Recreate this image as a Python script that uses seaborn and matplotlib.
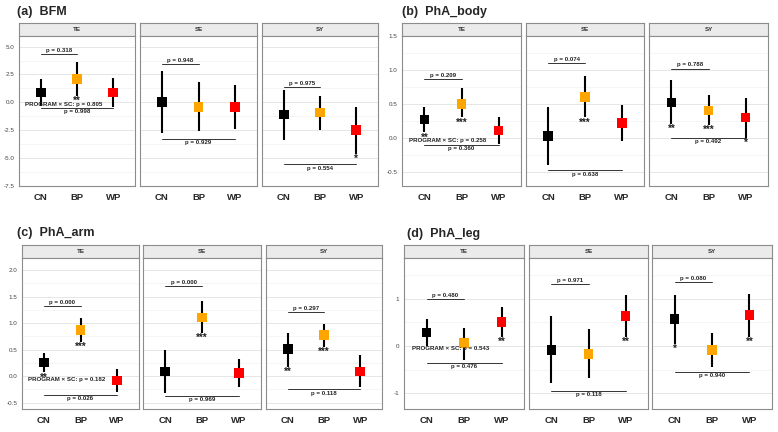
import matplotlib
matplotlib.use("Agg")
import matplotlib.pyplot as plt
import seaborn as sns
import pandas as pd
import numpy as np

# ---------------- data ----------------
groups = ["CN", "BP", "WP"]
facets = ["TE", "SE", "SY"]
panel_titles = ["(a)  BFM", "(b)  PhA_body", "(c)  PhA_arm", "(d)  PhA_leg"]
group_colors = ["#000000", "#FFA500", "#FF0000"]

# BFM
bfm_mean = [[0.90, 2.10, 0.90], [0.05, -0.40, -0.40], [-1.08, -0.90, -2.50]]
bfm_lo = [[-0.35, 0.60, -0.40], [-2.75, -2.55, -2.40], [-3.40, -2.45, -4.60]]
bfm_hi = [[2.10, 3.60, 2.20], [2.80, 1.80, 1.55], [1.10, 0.57, -0.40]]
bfm_stars = [["", "**", ""], ["", "", ""], ["", "", "*"]]
bfm_p_top = ["p = 0.318", "p = 0.948", "p = 0.975"]
bfm_p_top_y = [4.30, 3.40, 1.38]
bfm_p_bot = ["p = 0.998", "p = 0.929", "p = 0.554"]
bfm_p_bot_y = [-0.50, -3.30, -5.57]
bfm_inter = "PROGRAM × SC: p = 0.805"
bfm_inter_y = -0.20

# PhA_body
body_mean = [[0.27, 0.50, 0.11], [0.03, 0.60, 0.22], [0.52, 0.40, 0.30]]
body_lo = [[0.08, 0.30, -0.09], [-0.40, 0.30, -0.05], [0.21, 0.19, 0.00]]
body_hi = [[0.45, 0.73, 0.31], [0.46, 0.91, 0.49], [0.85, 0.63, 0.59]]
body_stars = [["**", "***", ""], ["", "***", ""], ["**", "***", "*"]]
body_p_top = ["p = 0.209", "p = 0.074", "p = 0.788"]
body_p_top_y = [0.87, 1.10, 1.02]
body_p_bot = ["p = 0.360", "p = 0.638", "p = 0.492"]
body_p_bot_y = [-0.11, -0.48, 0.00]
body_inter = "PROGRAM × SC: p = 0.258"
body_inter_y = -0.04

# PhA_arm
arm_mean = [[0.26, 0.87, -0.08], [0.09, 1.11, 0.06], [0.51, 0.78, 0.09]]
arm_lo = [[0.07, 0.65, -0.30], [-0.31, 0.81, -0.21], [0.18, 0.55, -0.21]]
arm_hi = [[0.43, 1.09, 0.14], [0.49, 1.41, 0.32], [0.81, 0.99, 0.39]]
arm_stars = [["**", "***", ""], ["", "***", ""], ["**", "***", ""]]
arm_p_top = ["p = 0.000", "p = 0.000", "p = 0.297"]
arm_p_top_y = [1.32, 1.70, 1.21]
arm_p_bot = ["p = 0.026", "p = 0.969", "p = 0.118"]
arm_p_bot_y = [-0.36, -0.37, -0.25]
arm_inter = "PROGRAM × SC: p = 0.182"
arm_inter_y = -0.06

# PhA_leg
leg_mean = [[0.29, 0.06, 0.51], [-0.08, -0.17, 0.64], [0.57, -0.08, 0.66]]
leg_lo = [[0.01, -0.29, 0.20], [-0.78, -0.68, 0.20], [0.05, -0.45, 0.20]]
leg_hi = [[0.57, 0.38, 0.82], [0.63, 0.35, 1.08], [1.08, 0.28, 1.11]]
leg_stars = [["", "", "**"], ["", "", "**"], ["*", "", "**"]]
leg_p_top = ["p = 0.480", "p = 0.971", "p = 0.080"]
leg_p_top_y = [1.00, 1.31, 1.35]
leg_p_bot = ["p = 0.476", "p = 0.118", "p = 0.940"]
leg_p_bot_y = [-0.35, -0.95, -0.54]
leg_inter = "PROGRAM × SC: p = 0.543"
leg_inter_y = -0.06

# y scales
bfm_ticks = [-7.5, -5.0, -2.5, 0.0, 2.5, 5.0]
body_ticks = [-0.5, 0.0, 0.5, 1.0, 1.5]
arm_ticks = [-0.5, 0.0, 0.5, 1.0, 1.5, 2.0]
leg_ticks = [-1, 0, 1]

panels = [
    dict(mean=bfm_mean, lo=bfm_lo, hi=bfm_hi, stars=bfm_stars, pt=bfm_p_top, pty=bfm_p_top_y,
         pb=bfm_p_bot, pby=bfm_p_bot_y, inter=bfm_inter, intery=bfm_inter_y,
         ticks=bfm_ticks, fmt="{:.1f}", ylim=(-7.5, 5.95)),
    dict(mean=body_mean, lo=body_lo, hi=body_hi, stars=body_stars, pt=body_p_top, pty=body_p_top_y,
         pb=body_p_bot, pby=body_p_bot_y, inter=body_inter, intery=body_inter_y,
         ticks=body_ticks, fmt="{:.1f}", ylim=(-0.71, 1.50)),
    dict(mean=arm_mean, lo=arm_lo, hi=arm_hi, stars=arm_stars, pt=arm_p_top, pty=arm_p_top_y,
         pb=arm_p_bot, pby=arm_p_bot_y, inter=arm_inter, intery=arm_inter_y,
         ticks=arm_ticks, fmt="{:.1f}", ylim=(-0.62, 2.23)),
    dict(mean=leg_mean, lo=leg_lo, hi=leg_hi, stars=leg_stars, pt=leg_p_top, pty=leg_p_top_y,
         pb=leg_p_bot, pby=leg_p_bot_y, inter=leg_inter, intery=leg_inter_y,
         ticks=leg_ticks, fmt="{:.0f}", ylim=(-1.33, 1.86)),
]

# ---------------- layout (pixels) ----------------
W, H = 778, 432
facet_x = [
    [(19, 135), (140, 257), (262, 378)],
    [(402, 521), (526, 644), (649, 768)],
    [(22, 139), (143, 261), (266, 382)],
    [(404, 524), (529, 648), (652, 772)],
]
plot_y = [(36, 186), (36, 186), (258, 409), (258, 409)]
strip_h = 13
title_pos = [(17, 12), (402, 12), (17, 233), (407, 234)]

sns.set_style("white")
plt.rcParams["font.family"] = ["Liberation Sans", "DejaVu Sans"]

fig = plt.figure(figsize=(W / 100, H / 100), dpi=100)
fig.patch.set_facecolor("white")


def px_axes(x0, x1, y0, y1):
    return fig.add_axes([x0 / W, 1 - y1 / H, (x1 - x0) / W, (y1 - y0) / H])


border_col = "#8c8c8c"
for pi, p in enumerate(panels):
    tx, ty = title_pos[pi]
    fig.text(tx / W, 1 - ty / H, panel_titles[pi], fontsize=9, fontweight="bold",
             ha="left", va="center")
    y0, y1 = plot_y[pi]
    for fi, facet in enumerate(facets):
        x0, x1 = facet_x[pi][fi]
        # strip
        sax = px_axes(x0, x1, y0 - strip_h, y0)
        sax.set_facecolor("#ebebeb")
        sax.set_xticks([]); sax.set_yticks([])
        for s in sax.spines.values():
            s.set_color(border_col); s.set_linewidth(0.8)
        sax.text(0.5, 0.5, facet, transform=sax.transAxes, ha="center", va="center",
                 fontsize=4.5, fontweight="bold", color="#333333")

        ax = px_axes(x0, x1, y0, y1)
        df = pd.DataFrame({
            "group": groups,
            "mean": p["mean"][fi],
            "lo": p["lo"][fi],
            "hi": p["hi"][fi],
        })
        # grid
        ticks = p["ticks"]
        step = ticks[1] - ticks[0]
        minor = [t + step / 2 for t in ticks[:-1]] + [ticks[0] - step / 2, ticks[-1] + step / 2]
        ax.set_yticks(ticks)
        ax.set_yticks(minor, minor=True)
        ax.grid(False)
        ax.yaxis.grid(True, which="major", color="#e6e6e6", lw=0.7)
        ax.yaxis.grid(True, which="minor", color="#f2f2f2", lw=0.5)
        ax.set_axisbelow(True)

        # error bars and points
        ax.vlines(df["group"], df["lo"], df["hi"], color="black", lw=1.5, zorder=2)
        sns.scatterplot(data=df, x="group", y="mean", hue="group", palette=group_colors,
                        hue_order=groups, marker="s", s=48, linewidth=0, legend=False,
                        ax=ax, zorder=3)

        # stars
        for gi, g in enumerate(groups):
            st = df["lo"][gi]
            if p["stars"][fi][gi]:
                ax.text(gi, st, p["stars"][fi][gi], ha="center", va="top",
                        fontsize=7, fontweight="bold", color="#222222", zorder=4)

        # brackets
        ax.plot([groups[0], groups[1]], [p["pty"][fi]] * 2, color="#333333", lw=0.7, zorder=2)
        ax.annotate(p["pt"][fi], (0.5, p["pty"][fi]), xytext=(0, 0.8), textcoords="offset points",
                    ha="center", va="bottom", fontsize=4.4, fontweight="bold", color="#222222")
        ax.plot([groups[0], groups[2]], [p["pby"][fi]] * 2, color="#333333", lw=0.7, zorder=2)
        ax.annotate(p["pb"][fi], (1.0, p["pby"][fi]), xytext=(0, -0.8), textcoords="offset points",
                    ha="center", va="top", fontsize=4.4, fontweight="bold", color="#222222")
        if fi == 0:
            ax.text(0.63, p["intery"], p["inter"], ha="center", va="center",
                    fontsize=4.4, fontweight="bold", color="#222222", zorder=5)

        ax.set_xlim(-0.6, 2.6)
        ax.set_ylim(*p["ylim"])
        ax.set_xlabel(""); ax.set_ylabel("")
        ax.tick_params(axis="x", length=2.5, width=0.6, color="#555555", pad=2.5,
                       labelsize=6.8)
        for lab in ax.get_xticklabels():
            lab.set_fontweight("bold")
        if fi == 0:
            ax.set_yticklabels([p["fmt"].format(t) for t in ticks])
            ax.tick_params(axis="y", which="major", length=2, width=0.6, color="#555555",
                           pad=1.5, labelsize=4.5, labelcolor="#444444")
        else:
            ax.tick_params(axis="y", which="major", length=0, labelleft=False)
        ax.tick_params(axis="y", which="minor", length=0)
        for s in ax.spines.values():
            s.set_visible(True)
            s.set_color(border_col); s.set_linewidth(0.8)

fig.savefig("out.png", dpi=100, facecolor="white")
